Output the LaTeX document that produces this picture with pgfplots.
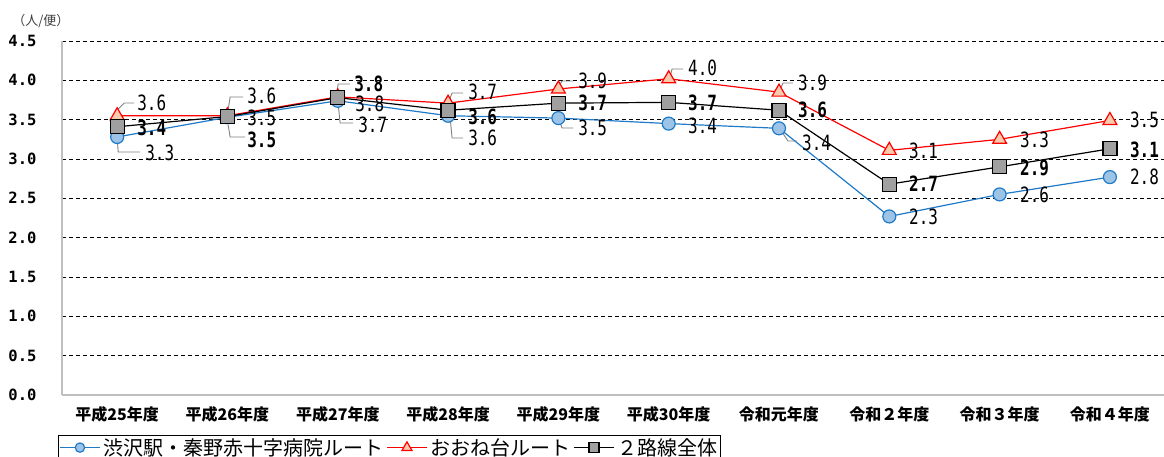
\documentclass[border=0pt]{standalone}
\usepackage{fontspec}
\usepackage{pgfplots}
\pgfplotsset{compat=1.18}
\setmainfont{Noto Sans CJK JP}
\newfontfamily\numfont[FakeStretch=0.76]{DejaVu Sans Mono}
\newfontfamily\tickfont{DejaVu Sans Mono}
\definecolor{bl}{HTML}{1F7BC8}
\definecolor{blfill}{HTML}{9DC3E6}
\definecolor{rd}{HTML}{FF0000}
\definecolor{rdfill}{HTML}{F8CBAD}
\definecolor{sqfill}{HTML}{A0A0A0}
\definecolor{axgray}{HTML}{BFBFBF}
\definecolor{leadc}{HTML}{808080}
\newcommand{\lab}[3]{\node[anchor=west,inner sep=0pt,font=\fontsize{21}{21}\selectfont\numfont] at (axis cs:{(#1-117)/110.33},{(395-#2)/78.67}) {#3};}
\newcommand{\labb}[3]{\node[anchor=west,inner sep=0pt,font=\fontsize{21}{21}\selectfont\numfont\bfseries] at (axis cs:{(#1-117)/110.33},{(395-#2)/78.67}) {#3};}
\newcommand{\lead}[6]{\draw[leadc,line width=0.9pt] (axis cs:{(#1-117)/110.33},{(395-#2)/78.67}) -- (axis cs:{(#3-117)/110.33},{(395-#4)/78.67}) -- (axis cs:{(#5-117)/110.33},{(395-#6)/78.67});}
\begin{document}
\begin{tikzpicture}
\path[use as bounding box] (0pt,0pt) rectangle (1164pt,-457pt);
\begin{axis}[
  at={(62pt,-395pt)}, anchor=south west,
  scale only axis, width=1103pt, height=354pt,
  xmin=-0.5, xmax=9.5, ymin=0, ymax=4.5,
  xtick={0,...,9},
  xticklabels={平成25年度,平成26年度,平成27年度,平成28年度,平成29年度,平成30年度,令和元年度,令和２年度,令和３年度,令和４年度},
  ytick={0,0.5,...,4.5},
  axis x line*=bottom, axis y line*=left,
  axis line style={axgray, line width=1.5pt, -},
  ymajorgrids, grid style={black, dash pattern=on 4pt off 3pt, line width=0.8pt},
  major tick length=0pt,
  /pgf/number format/assume math mode=true,
  yticklabel style={/pgf/number format/fixed, /pgf/number format/fixed zerofill, /pgf/number format/precision=1, font=\fontsize{15.5}{16}\selectfont\tickfont\bfseries, anchor=east, xshift=-22pt},
  xticklabel style={font=\fontsize{16}{16}\selectfont\bfseries, anchor=north, yshift=-8pt},
  clip=false,
  legend style={at={(-0.0036,-0.113)}, anchor=north west, draw=black, line width=0.8pt, font=\fontsize{20}{22}\selectfont, inner sep=1pt, /tikz/every even column/.append style={column sep=1pt}, /tikz/every odd column/.append style={column sep=1pt}},
  legend columns=3, legend cell align=left,
  legend image code/.code={\draw[mark=none] (0cm,0cm) -- (1.4cm,0cm); \draw[mark size={0.72*\pgfplotmarksize}] plot[only marks] coordinates {(0.7cm,0cm)};},
]
\addplot[bl, line width=1.2pt, mark=*, mark size=6.5pt, mark options={fill=blfill, draw=bl, line width=1.2pt}]
  coordinates {(0,3.28)(1,3.53)(2,3.74)(3,3.55)(4,3.52)(5,3.45)(6,3.39)(7,2.27)(8,2.55)(9,2.77)};
\addlegendentry{渋沢駅・秦野赤十字病院ルート}
\addplot[rd, line width=1.2pt, mark=triangle*, mark size=8pt, mark options={fill=rdfill, draw=rd, line width=1.2pt}]
  coordinates {(0,3.55)(1,3.55)(2,3.79)(3,3.71)(4,3.89)(5,4.02)(6,3.85)(7,3.11)(8,3.25)(9,3.49)};
\addlegendentry{おおね台ルート}
\addplot[black, line width=1.2pt, mark=square*, mark size=7pt, mark options={fill=sqfill, draw=black, line width=1.2pt}]
  coordinates {(0,3.41)(1,3.54)(2,3.78)(3,3.62)(4,3.71)(5,3.72)(6,3.62)(7,2.68)(8,2.90)(9,3.13)};
\addlegendentry{２路線全体}
% leader lines
\lead{118}{109}{124}{103}{134}{103}
\lead{228}{110}{230}{97}{243}{97}
\lead{337}{92}{338}{84}{350}{84}
\lead{338}{103}{340}{123}{353}{123}
\lead{117}{137}{118}{152}{140}{152}
\lead{228}{125}{230}{137}{245}{137}
\lead{448}{103}{452}{93}{463}{93}
\lead{450}{117}{452}{138}{463}{138}
\lead{558}{87}{562}{81}{573}{81}
\lead{559}{120}{562}{128}{573}{128}
\lead{670}{77}{672}{69}{683}{69}
\lead{780}{90}{783}{83}{793}{83}
\lead{780}{129}{788}{141}{797}{141}
% red labels
\lab{137}{103}{3.6}
\lab{247}{96}{3.6}
\lab{355}{104}{3.8}
\lab{468}{92}{3.7}
\lab{578}{81}{3.9}
\lab{688}{68}{4.0}
\lab{798}{83}{3.9}
\lab{909}{151}{3.1}
\lab{1020}{140}{3.3}
\lab{1130}{120}{3.5}
% black labels
\labb{137}{128}{3.4}
\labb{247}{140}{3.5}
\labb{354}{84}{3.8}
\labb{468}{117}{3.6}
\labb{578}{103}{3.7}
\labb{688}{103}{3.7}
\labb{798}{110}{3.6}
\labb{909}{184}{2.7}
\labb{1020}{168}{2.9}
\labb{1130}{150}{3.1}
% blue labels
\lab{145}{153}{3.3}
\lab{247}{118}{3.5}
\lab{358}{125}{3.7}
\lab{468}{138}{3.6}
\lab{578}{128}{3.5}
\lab{688}{126}{3.4}
\lab{802}{143}{3.4}
\lab{909}{217}{2.3}
\lab{1020}{195}{2.6}
\lab{1130}{177}{2.8}
\node[anchor=west, inner sep=0pt, text=darkgray, font=\fontsize{13}{13}\selectfont] at (axis cs:{(12-117)/110.33},{(395-21)/78.67}) {（人/便）};
\end{axis}
\end{tikzpicture}
\end{document}
